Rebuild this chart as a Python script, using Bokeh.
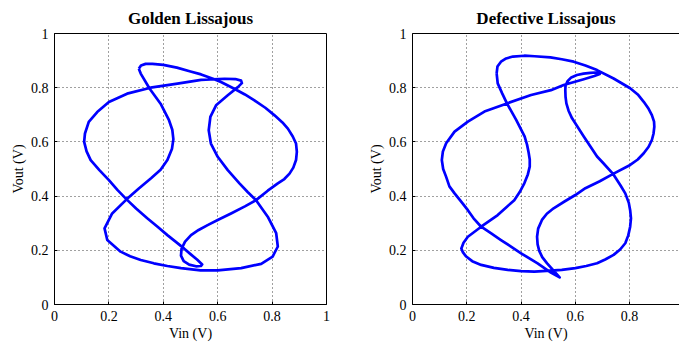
from bokeh.plotting import figure
from bokeh.models import FixedTicker, LinearAxis, Range1d
from bokeh.layouts import row
from bokeh.embed import file_html
from bokeh.resources import INLINE

TICKS = [0, 0.2, 0.4, 0.6, 0.8, 1]
TICK_LABELS = ["0", "0.2", "0.4", "0.6", "0.8", "1"]

TITLE_GOLDEN = "Golden Lissajous"
TITLE_DEFECT = "Defective Lissajous"
X_LABEL = "Vin (V)"
Y_LABEL = "Vout (V)"

GOLDEN_VIN = [0.310, 0.318, 0.335, 0.360, 0.400, 0.450, 0.500, 0.539, 0.580, 0.612,
              0.661, 0.700, 0.735, 0.775, 0.809, 0.838, 0.858, 0.876, 0.888, 0.891,
              0.888, 0.878, 0.864, 0.845, 0.821, 0.784, 0.741, 0.700, 0.649, 0.600,
              0.563, 0.530, 0.502, 0.480, 0.467, 0.465, 0.475, 0.495, 0.520, 0.538,
              0.543, 0.525, 0.500, 0.476, 0.445, 0.415, 0.380, 0.341, 0.300, 0.265,
              0.232, 0.200, 0.165, 0.133, 0.118, 0.109, 0.112, 0.126, 0.157, 0.200,
              0.267, 0.353, 0.452, 0.539, 0.625, 0.665, 0.686, 0.689, 0.674, 0.637,
              0.594, 0.573, 0.567, 0.575, 0.600, 0.637, 0.680, 0.710, 0.741, 0.784,
              0.815, 0.821, 0.802, 0.760, 0.686, 0.600, 0.537, 0.465, 0.415, 0.365,
              0.317, 0.278, 0.243, 0.194, 0.184, 0.212, 0.265, 0.310, 0.355, 0.390,
              0.415, 0.432, 0.437, 0.433, 0.421, 0.390, 0.350, 0.317, 0.310]
GOLDEN_VOUT = [0.870, 0.882, 0.888, 0.888, 0.884, 0.874, 0.860, 0.849, 0.834, 0.821,
               0.796, 0.775, 0.753, 0.726, 0.698, 0.672, 0.649, 0.620, 0.594, 0.563,
               0.533, 0.505, 0.483, 0.463, 0.447, 0.420, 0.385, 0.362, 0.336, 0.312,
               0.293, 0.275, 0.256, 0.232, 0.205, 0.180, 0.160, 0.147, 0.141, 0.142,
               0.148, 0.165, 0.186, 0.207, 0.232, 0.256, 0.286, 0.318, 0.354, 0.388,
               0.422, 0.459, 0.496, 0.533, 0.565, 0.600, 0.631, 0.674, 0.710, 0.747,
               0.778, 0.800, 0.815, 0.829, 0.833, 0.832, 0.826, 0.817, 0.802, 0.772,
               0.735, 0.692, 0.643, 0.594, 0.545, 0.496, 0.447, 0.415, 0.385, 0.324,
               0.263, 0.214, 0.177, 0.150, 0.134, 0.126, 0.126, 0.134, 0.142, 0.152,
               0.164, 0.178, 0.195, 0.238, 0.281, 0.336, 0.388, 0.428, 0.466, 0.497,
               0.533, 0.575, 0.610, 0.645, 0.680, 0.741, 0.796, 0.852, 0.870]

DEFECT_VIN = [0.310, 0.313, 0.326, 0.345, 0.370, 0.412, 0.450, 0.508, 0.550, 0.594,
              0.637, 0.680, 0.741, 0.802, 0.830, 0.852, 0.870, 0.882, 0.890, 0.891,
              0.888, 0.882, 0.870, 0.852, 0.830, 0.802, 0.741, 0.690, 0.637, 0.600,
              0.560, 0.520, 0.495, 0.477, 0.463, 0.459, 0.461, 0.467, 0.478, 0.496,
              0.520, 0.542, 0.510, 0.461, 0.400, 0.326, 0.290, 0.253, 0.225, 0.204,
              0.175, 0.155, 0.136, 0.124, 0.113, 0.108, 0.112, 0.124, 0.155, 0.204,
              0.265, 0.348, 0.437, 0.510, 0.557, 0.631, 0.670, 0.690, 0.675, 0.655,
              0.630, 0.606, 0.585, 0.572, 0.564, 0.563, 0.564, 0.567, 0.575, 0.588,
              0.631, 0.680, 0.700, 0.738, 0.766, 0.784, 0.797, 0.802, 0.805, 0.802,
              0.795, 0.784, 0.765, 0.741, 0.710, 0.680, 0.640, 0.600, 0.550, 0.508,
              0.449, 0.400, 0.351, 0.300, 0.253, 0.220, 0.198, 0.186, 0.180, 0.188,
              0.204, 0.253, 0.314, 0.345, 0.375, 0.395, 0.412, 0.425, 0.432, 0.432,
              0.428, 0.422, 0.413, 0.382, 0.348, 0.330, 0.314, 0.310]
DEFECT_VOUT = [0.853, 0.878, 0.896, 0.908, 0.915, 0.918, 0.916, 0.912, 0.905, 0.896,
               0.882, 0.865, 0.834, 0.798, 0.775, 0.748, 0.722, 0.699, 0.675, 0.656,
               0.630, 0.607, 0.582, 0.558, 0.535, 0.515, 0.483, 0.455, 0.429, 0.404,
               0.380, 0.355, 0.335, 0.312, 0.280, 0.250, 0.222, 0.198, 0.175, 0.152,
               0.125, 0.100, 0.118, 0.152, 0.189, 0.238, 0.262, 0.287, 0.318, 0.348,
               0.385, 0.410, 0.436, 0.471, 0.500, 0.533, 0.565, 0.595, 0.638, 0.675,
               0.712, 0.742, 0.773, 0.791, 0.810, 0.831, 0.843, 0.851, 0.856, 0.855,
               0.852, 0.847, 0.838, 0.825, 0.808, 0.791, 0.765, 0.742, 0.715, 0.687,
               0.620, 0.546, 0.525, 0.483, 0.440, 0.410, 0.375, 0.348, 0.318, 0.287,
               0.255, 0.226, 0.203, 0.183, 0.166, 0.152, 0.142, 0.134, 0.128, 0.125,
               0.121, 0.123, 0.128, 0.135, 0.146, 0.160, 0.177, 0.192, 0.207, 0.228,
               0.250, 0.287, 0.330, 0.358, 0.385, 0.415, 0.447, 0.480, 0.509, 0.535,
               0.560, 0.590, 0.620, 0.681, 0.742, 0.780, 0.816, 0.853]

FONT = "Liberation Serif"
LINE_COLOR = "#0000ff"


def style_axis(ax):
    ax.ticker = FixedTicker(ticks=TICKS)
    ax.major_label_overrides = dict(zip(TICKS, TICK_LABELS))
    ax.major_tick_in = 3
    ax.major_tick_out = 0
    ax.minor_tick_in = 0
    ax.minor_tick_out = 0
    ax.axis_line_color = "black"
    ax.axis_line_width = 1
    ax.major_tick_line_color = "black"
    ax.major_label_text_font = FONT
    ax.major_label_text_color = "black"
    ax.major_label_text_font_size = "14px"
    ax.major_label_standoff = 6
    ax.axis_label_text_font = FONT
    ax.axis_label_text_font_style = "normal"
    ax.axis_label_text_font_size = "14px"
    ax.axis_label_text_color = "black"
    ax.axis_label_standoff = 2


def make(title, xs, ys, x_end, min_left, frame_w, min_right, full_box, title_offset):
    p = figure(frame_width=frame_w, frame_height=271,
               x_range=Range1d(0, x_end), y_range=Range1d(0, 1),
               output_backend="svg", toolbar_location=None,
               min_border_left=min_left, min_border_right=min_right,
               min_border_top=33, min_border_bottom=38, title=title)
    p.title.text_font = FONT
    p.title.text_font_size = "17px"
    p.title.text_font_style = "bold"
    p.title.text_color = "black"
    p.title.align = "center"
    p.title.standoff = 12
    p.title.offset = title_offset
    p.background_fill_color = "white"
    p.border_fill_color = "white"

    style_axis(p.xaxis[0])
    style_axis(p.yaxis[0])
    p.xaxis[0].axis_label = X_LABEL
    p.yaxis[0].axis_label = Y_LABEL

    if full_box:
        p.outline_line_color = "black"
        p.outline_line_width = 1
    else:
        # box cut off at the right edge of the picture: only the top border line
        p.outline_line_color = None
        top = LinearAxis(ticker=FixedTicker(ticks=[]), axis_line_color="black",
                         axis_line_width=1, major_tick_in=0, major_tick_out=0,
                         minor_tick_in=0, minor_tick_out=0, major_label_standoff=0)
        p.add_layout(top, "above")

    for g in (p.xgrid[0], p.ygrid[0]):
        g.ticker = FixedTicker(ticks=TICKS)
        g.grid_line_color = "black"
        g.grid_line_alpha = 0.75
        g.grid_line_dash = "1 3"
        g.grid_line_width = 1

    p.line(xs, ys, line_color=LINE_COLOR, line_width=2.7, line_join="round")
    return p


p1 = make(TITLE_GOLDEN, GOLDEN_VIN, GOLDEN_VOUT, 1.0, 54, 272, 14, True, 0)
p2 = make(TITLE_DEFECT, DEFECT_VIN, DEFECT_VOUT, 267 / 271.4, 72, 267, 0, False, 2)

layout = row(p1, p2)
open("out.html", "w").write(file_html(layout, INLINE))
